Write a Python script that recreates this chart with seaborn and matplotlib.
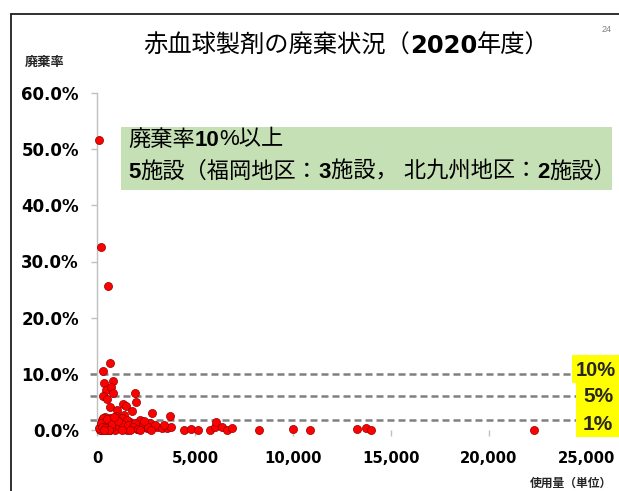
import matplotlib
matplotlib.use("Agg")
import matplotlib.pyplot as plt
import seaborn as sns
import pandas as pd
from matplotlib.lines import Line2D
from matplotlib.patches import Rectangle
from matplotlib.offsetbox import TextArea, HPacker, AnchoredOffsetbox

# ---------------- data ----------------
usage = [100, 180, 560, 650, 300,
         370, 800, 475, 715, 815, 305, 495, 1920, 2000, 665, 1020, 1350, 1460,
         1770, 2820, 3720, 1390, 970, 2190, 665, 410, 240, 2700, 1680, 1170,
         830, 490, 320, 240, 665, 1000, 1340, 1770, 2280, 3040, 3300, 3550,
         3800, 2530, 2020, 410, 580, 320, 900, 1250, 1510, 1940, 2360, 2600,
         1170, 900, 1510, 2380, 2940, 3420,
         150, 200, 250, 120, 350, 450, 550, 600, 700, 750, 180, 280, 400, 520,
         760, 1100, 1300, 1600, 1850, 2100, 1050, 850, 620, 350, 1250, 1700,
         2200, 2750,
         4420, 4790, 5150, 5750, 6000, 6070, 6380, 6610, 6900, 8260, 9980,
         10860, 13280, 13720, 13990, 22290]
rate = [51.6, 32.6, 25.7, 12.0, 10.5,
        8.3, 8.8, 7.2, 7.7, 6.6, 6.0, 5.6, 6.5, 5.0, 4.1, 3.6, 4.7, 4.3,
        3.3, 3.0, 2.5, 2.7, 2.5, 1.8, 2.1, 2.4, 1.8, 1.2, 1.5, 1.2,
        0.9, 0.6, 0.3, 0.0, 0.0, 0.3, 0.3, 0.5, 0.5, 0.6, 0.3, 0.4,
        0.6, 0.3, 0.1, 1.2, 1.5, 2.1, 1.2, 2.1, 1.8, 1.2, 0.9, 0.6,
        0.3, 0.0, 0.0, 1.6, 0.9, 0.9,
        0.0, 0.8, 1.0, 0.3, 1.5, 0.0, 0.9, 0.3, 1.8, 0.6, 1.3, 0.5, 0.4, 2.0,
        1.1, 0.7, 1.0, 0.9, 0.5, 0.2, 1.6, 2.3, 0.0, 0.0, 0.0, 0.0,
        0.0, 0.0,
        0.0, 0.15, 0.0, 0.0, 0.5, 1.4, 0.5, 0.0, 0.35, 0.0, 0.1,
        0.0, 0.15, 0.35, 0.0, 0.0]

y_ticks = [0, 10, 20, 30, 40, 50, 60]
x_ticks = [0, 5000, 10000, 15000, 20000, 25000]
ref_lines = [10.0, 6.0, 1.7]          # drawn positions of the guide lines
ref_labels = ["10%", "5%", "1%"]

title_runs = [("赤血球製剤の廃棄状況（", "normal"), ("2020", "bold"), ("年度）", "normal")]
box_line1 = [("廃棄率", "normal"), ("10", "bold"), ("%以上", "normal")]
box_line2 = [("5", "bold"), ("施設（福岡地区：", "normal"), ("3", "bold"),
             ("施設， 北九州地区：", "normal"), ("2", "bold"), ("施設）", "normal")]
y_title = "廃棄率"
x_title = "使用量（単位）"
page_no = "24"

# ---------------- style ----------------
sns.set_style("white")
CJK = "Noto Sans CJK JP"
plt.rcParams["font.family"] = ["DejaVu Sans", CJK]

W, H = 619, 491
fig = plt.figure(figsize=(W / 100, H / 100), dpi=100)
fig.patch.set_facecolor("white")

def fx(px):
    return px / W

def fy(py):
    return 1 - py / H

ax = fig.add_axes([fx(97), fy(430), fx(587) - fx(97), fy(93) - fy(430)])

df = pd.DataFrame({"usage": usage, "rate": rate})
sns.scatterplot(data=df, x="usage", y="rate", ax=ax, s=34, color="#ff0000",
                edgecolor="#900000", linewidth=0.5, clip_on=False, zorder=3,
                legend=False)

ax.set_xlim(0, 25000)
ax.set_ylim(0, 60)
ax.set_yticks(y_ticks)
ax.set_yticklabels([f"{v:.1f}%" for v in y_ticks])
ax.set_xticks(x_ticks)
ax.set_xticklabels([f"{v:,}" for v in x_ticks])
ax.set_xlabel("")
ax.set_ylabel("")

for s in ["top", "right", "bottom"]:
    ax.spines[s].set_visible(False)
ax.spines["left"].set_color("#c0c0c0")
ax.spines["left"].set_linewidth(1.0)

ax.tick_params(axis="y", which="both", left=True, direction="out", length=4,
               width=1, color="#c0c0c0", pad=9, labelsize=12)
ax.tick_params(axis="x", which="both", bottom=True, direction="out", length=4,
               width=1, color="#c0c0c0", pad=11, labelsize=10.7)
for lab in ax.get_yticklabels() + ax.get_xticklabels():
    lab.set_fontweight("bold")
    lab.set_color("black")

for v in ref_lines:
    ax.plot([-350, 25000], [v, v], ls=(0, (2.8, 1.6)), color="#808080",
            lw=1.8, clip_on=False, zorder=2)

# ---------------- frame ----------------
fig.add_artist(Line2D([fx(11), fx(11)], [fy(14), 0], transform=fig.transFigure,
                      color="#202020", lw=1.3))
fig.add_artist(Line2D([fx(11), 1], [fy(14), fy(14)], transform=fig.transFigure,
                      color="#202020", lw=1.3))

# ---------------- rich text helper ----------------
def rich(runs, x_px, y_px, size, family, color="black"):
    areas = [TextArea(t, textprops=dict(fontsize=size, fontweight=w,
                                        family=family, color=color))
             for t, w in runs]
    pack = HPacker(children=areas, align="baseline", pad=0, sep=0)
    box = AnchoredOffsetbox(loc="center left", child=pack, pad=0, borderpad=0,
                            frameon=False, bbox_to_anchor=(fx(x_px), fy(y_px)),
                            bbox_transform=fig.transFigure)
    fig.add_artist(box)

# title
rich(title_runs, 143, 46, 17.5, ["DejaVu Sans", CJK])

# page number
fig.text(fx(612), fy(29), page_no, fontsize=6.5, color="#808080",
         ha="right", va="center", family="Liberation Sans")

# axis titles
fig.text(fx(25), fy(62), y_title, fontsize=9.5, fontweight="bold",
         family=[CJK], ha="left", va="center")
fig.text(fx(530), fy(483), x_title, fontsize=8.5, fontweight="bold",
         family=[CJK], ha="left", va="center")

# green annotation box
fig.add_artist(Rectangle((fx(121), fy(190)), fx(612) - fx(121), fy(127) - fy(190),
                         transform=fig.transFigure, facecolor="#c5e0b4",
                         edgecolor="none", zorder=1))
rich(box_line1, 128, 140, 16, ["Liberation Sans", CJK])
rich(box_line2, 128, 172, 16, ["Liberation Sans", CJK])

# yellow labels
fig.add_artist(Rectangle((fx(572), fy(383)), 1 - fx(572), fy(355) - fy(383),
                         transform=fig.transFigure, facecolor="#ffff00",
                         edgecolor="none", zorder=4))
fig.add_artist(Rectangle((fx(576), fy(437)), 1 - fx(576), fy(383) - fy(437),
                         transform=fig.transFigure, facecolor="#ffff00",
                         edgecolor="none", zorder=4))
label_y = [370, 397, 424]
label_x = [576, 583, 583]
label_size = [14.5, 15, 15]
for lab, yy, xx, sz in zip(ref_labels, label_y, label_x, label_size):
    fig.text(fx(xx), fy(yy), lab, fontsize=sz, fontweight="bold",
             family="Liberation Sans", ha="left", va="center", zorder=5)

fig.savefig("out.png", dpi=100)
